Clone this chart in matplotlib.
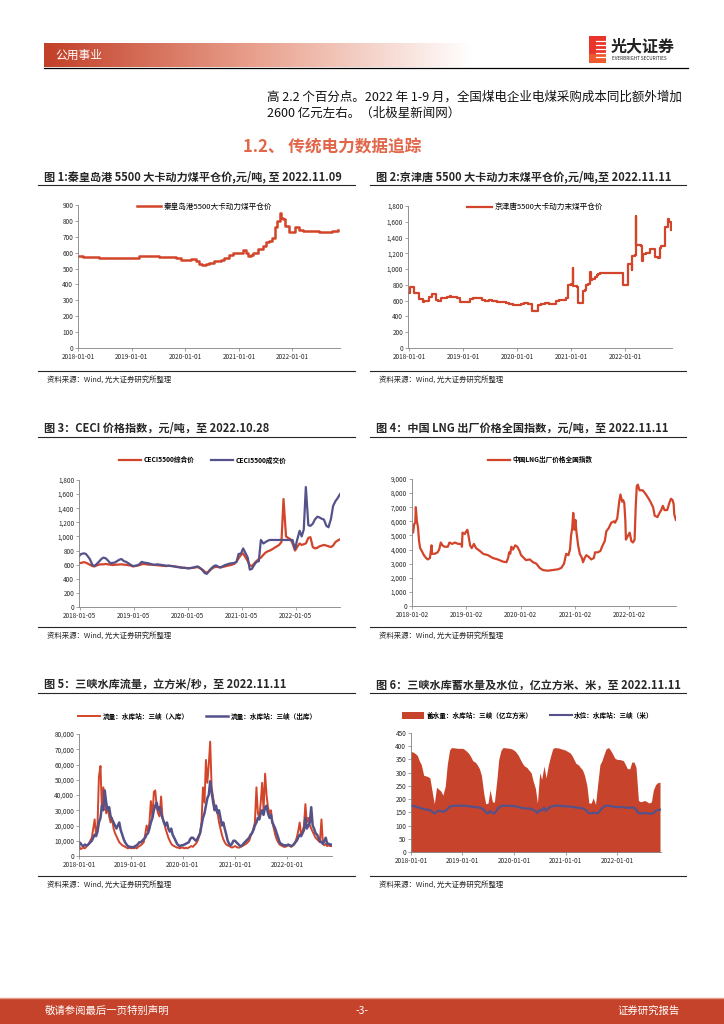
import matplotlib.pyplot as plt
from matplotlib.ticker import FuncFormatter, MultipleLocator
from matplotlib.lines import Line2D
from matplotlib.patches import Rectangle, Patch
from matplotlib.colors import LinearSegmentedColormap
import numpy as np
import pandas as pd

plt.rcParams['font.family'] = ['Noto Sans CJK SC', 'DejaVu Sans']

W, H = 724, 1024
RED = '#D2452A'
BLUE = '#55528A'
AREA = '#C8432B'
GRAY = '#808080'
TXT = '#262626'
SRC = '资料来源：Wind, 光大证券研究所整理'

# ---------------- data ----------------
# 图1 秦皇岛港 5500 平仓价 (step series)
qhd_dates = ['2018-01-01', '2018-02-04', '2018-05-20', '2018-08-09', '2019-02-20', '2019-07-05',
             '2019-10-27', '2019-12-01', '2020-02-09', '2020-03-12', '2020-04-05', '2020-04-27',
             '2020-05-20', '2020-06-12', '2020-07-16', '2020-09-01', '2020-09-24', '2020-10-28',
             '2020-11-20', '2020-12-13', '2021-01-28', '2021-02-15', '2021-03-01', '2021-03-24',
             '2021-04-09', '2021-05-09', '2021-06-12', '2021-07-05', '2021-07-28', '2021-08-15',
             '2021-09-05', '2021-09-15', '2021-10-05', '2021-10-15', '2021-11-01', '2021-11-10',
             '2021-12-12', '2022-01-16', '2022-02-15', '2022-03-12', '2022-07-01', '2022-10-01',
             '2022-11-09']
qhd_vals = [580, 570, 565, 568, 578, 575, 565, 555, 560, 548, 530, 525,
            530, 535, 545, 555, 565, 585, 595, 600, 615, 600, 580, 585,
            595, 620, 645, 670, 675, 690, 760, 800, 850, 820, 810, 770,
            730, 760, 740, 735, 733, 735, 740]

# 图2 京津唐 5500 末煤平仓价 (step series)
jjt_dates = ['2018-01-01', '2018-01-05', '2018-02-04', '2018-03-04', '2018-04-05', '2018-04-10',
             '2018-05-10', '2018-06-04', '2018-06-20', '2018-07-01', '2018-07-15', '2018-08-01',
             '2018-08-28', '2018-09-10', '2018-10-01', '2018-10-10', '2018-11-17', '2018-12-10',
             '2019-02-17', '2019-03-10', '2019-05-06', '2019-05-29', '2019-06-26', '2019-07-14',
             '2019-08-15', '2019-10-15', '2019-11-06', '2019-12-01', '2020-01-27', '2020-02-19',
             '2020-03-12', '2020-04-09', '2020-05-19', '2020-06-12', '2020-07-09', '2020-08-04',
             '2020-08-20', '2020-09-19', '2020-10-10', '2020-11-25', '2020-12-13', '2020-12-28',
             '2021-01-14', '2021-01-17', '2021-02-10', '2021-02-15', '2021-03-20', '2021-04-06',
             '2021-04-10', '2021-04-28', '2021-05-10', '2021-05-13', '2021-05-25', '2021-06-10',
             '2021-06-25', '2021-07-05', '2021-07-18', '2021-12-20', '2022-01-23', '2022-02-15',
             '2022-02-17', '2022-03-10', '2022-03-17', '2022-03-20', '2022-04-19', '2022-04-24',
             '2022-04-30', '2022-05-25', '2022-06-10', '2022-06-22', '2022-07-24', '2022-08-10',
             '2022-08-28', '2022-09-03', '2022-09-27', '2022-10-19', '2022-10-30', '2022-11-07',
             '2022-11-11']
jjt_vals = [700, 770, 700, 620, 580, 590,
            650, 690, 680, 610, 600, 630,
            640, 650, 665, 645, 630, 585,
            620, 630, 610, 600, 610, 590,
            585, 570, 555, 550, 560, 570,
            560, 470, 540, 560, 575, 560,
            555, 600, 610, 635, 800, 810,
            1020, 780, 770, 570, 720, 740,
            800, 810, 960, 860, 880, 900,
            920, 935, 950, 800, 1060, 990,
            1160, 1180, 1670, 1300, 1290, 1100,
            1190, 1200, 1210, 1250, 1150, 1140,
            1270, 1290, 1530, 1630, 1600, 1500,
            1500]

# 图3 CECI, semi-monthly 2018-01 ~ 2022-11
ceci_zh = [620, 625, 635, 630, 615, 600, 580, 575, 590, 600, 605, 605,
           610, 605, 600, 595, 598, 600, 603, 605, 600, 598, 592, 588,
           575, 580, 588, 595, 605, 610, 605, 600, 600, 598, 595, 592,
           588, 585, 582, 580, 585, 583, 578, 575, 568, 565, 558, 555,
           552, 550, 553, 556, 562, 565, 545, 530, 500, 485, 510, 540,
           560, 570, 565, 560, 570, 575, 585, 590, 600, 610, 640, 690,
           740, 760, 700, 650, 590, 580, 620, 650, 680, 700, 740, 770,
           790, 800, 820, 840, 860, 880, 920, 1530, 1000, 980, 960, 900,
           800, 850, 900, 880, 890, 900, 980, 990, 850, 830, 840, 860,
           870, 880, 870, 860, 850, 870, 920, 940, 960]
ceci_cj = [720, 750, 760, 755, 720, 680, 600, 580, 610, 640, 680, 700,
           690, 660, 620, 625, 630, 650, 670, 680, 650, 640, 620, 600,
           580, 585, 590, 610, 640, 630, 625, 620, 610, 600, 600, 605,
           600, 595, 590, 585, 585, 580, 578, 570, 565, 560, 555, 555,
           550, 548, 555, 560, 570, 575, 550, 520, 480, 470, 520, 550,
           580, 590, 570, 560, 580, 595, 605, 615, 620, 625, 640, 750,
           760, 830, 760, 700, 530, 540, 600, 640, 650, 950, 900, 920,
           940, 950, 950, 950, 950, 950, 950, 950, 950, 950, 950, 950,
           820, 950, 1080, 1000, 1100, 1700, 1160, 1150, 1180, 1240, 1280, 1270,
           1250, 1240, 1150, 1130, 1250, 1430, 1500, 1540, 1600]

# 图4 LNG 出厂价格全国指数 (decimal year, value)
lng_yr = [2018.00, 2018.02, 2018.04, 2018.06, 2018.07, 2018.09, 2018.11, 2018.13, 2018.15, 2018.18,
          2018.22, 2018.26, 2018.29, 2018.33, 2018.34, 2018.36, 2018.37, 2018.42, 2018.47, 2018.50,
          2018.53, 2018.56, 2018.60, 2018.66, 2018.69, 2018.74, 2018.79, 2018.85, 2018.91, 2018.92,
          2018.93, 2018.97, 2019.00, 2019.02, 2019.04, 2019.07, 2019.10, 2019.14, 2019.18, 2019.25,
          2019.31, 2019.40, 2019.49, 2019.58, 2019.67, 2019.74, 2019.77, 2019.79, 2019.81, 2019.83,
          2019.86, 2019.90, 2019.94, 2019.98, 2020.01, 2020.06, 2020.10, 2020.17, 2020.23, 2020.29,
          2020.35, 2020.41, 2020.50, 2020.60, 2020.69, 2020.75, 2020.80, 2020.84, 2020.88, 2020.91,
          2020.93, 2020.95, 2020.97, 2020.99, 2021.01, 2021.03, 2021.06, 2021.09, 2021.13, 2021.15,
          2021.18, 2021.21, 2021.25, 2021.30, 2021.35, 2021.37, 2021.42, 2021.47, 2021.50, 2021.55,
          2021.58, 2021.62, 2021.67, 2021.72, 2021.74, 2021.78, 2021.82, 2021.84, 2021.87, 2021.89,
          2021.91, 2021.93, 2021.94, 2021.98, 2022.01, 2022.04, 2022.07, 2022.10, 2022.12, 2022.14,
          2022.16, 2022.19, 2022.25, 2022.31, 2022.36, 2022.39, 2022.44, 2022.47, 2022.52, 2022.56,
          2022.59, 2022.62, 2022.65, 2022.70, 2022.74, 2022.77, 2022.80, 2022.82, 2022.83, 2022.86]
lng_vals = [5400, 5200, 5800, 5900, 7000, 6000, 5600, 4600, 4100, 3900,
            3600, 3400, 3300, 3400, 3700, 4300, 3700, 3700, 3800, 4000,
            4500, 4300, 4200, 4200, 4500, 4400, 4500, 4400, 4400, 4200,
            5200, 5100, 5300, 5400, 5000, 4300, 4100, 4400, 4100, 3900,
            3700, 3600, 3400, 3300, 3150, 3100, 3400, 3800, 3700, 4200,
            4000, 4300, 4200, 3900, 3600, 3400, 3250, 3300, 3100, 3000,
            2700, 2550, 2500, 2550, 2600, 2700, 3000, 3700, 3600, 4000,
            5000, 5500, 6600, 5400, 6100, 5200, 4300, 3700, 3400, 3100,
            3400, 3600, 3500, 3300, 3400, 3800, 3800, 3900, 4200, 4600,
            5300, 5500, 5900, 6000, 5900, 6200, 7500, 7900, 7400, 7500,
            7300, 6000, 4700, 5000, 5200, 4600, 4500, 4700, 7000, 8500,
            8600, 8200, 8200, 7900, 7600, 7400, 7000, 6400, 6300, 6600,
            6800, 7100, 6800, 6800, 7300, 7600, 7500, 7200, 6500, 6100]

# 图5 三峡流量, 每月 1/11/21 日
flow_in = [7000, 4500, 5000, 5500, 5000, 6000, 7000, 8000, 10000, 12000, 18000, 24000,
           14000, 20000, 52000, 59000, 30000, 45000, 38000, 28000, 32000, 26000, 22000, 25000,
           18000, 15000, 13000, 11000, 9000, 8000, 7000, 6500, 6000, 5500, 5000, 5500,
           5000, 5500, 5000, 5500, 5000, 6000, 6500, 7000, 8000, 9000, 14000, 20000,
           16000, 22000, 36000, 25000, 42000, 43000, 32000, 28000, 26000, 39000, 25000, 22000,
           18000, 15000, 12000, 10000, 8000, 7000, 6500, 6000, 5500, 5500, 5000, 5500,
           5500, 5000, 5500, 5000, 5500, 6000, 6500, 6000, 7000, 8000, 9500, 12000,
           15000, 22000, 45000, 35000, 63000, 48000, 60000, 75000, 45000, 38000, 33000, 30000,
           28000, 22000, 18000, 14000, 11000, 9000, 7500, 7000, 6500, 6000, 5500, 6000,
           6500, 6000, 5500, 5500, 6000, 6500, 7000, 7500, 8000, 9000, 10000, 13000,
           15000, 18000, 22000, 45000, 28000, 25000, 35000, 48000, 30000, 54000, 40000, 32000,
           28000, 30000, 22000, 18000, 14000, 11000, 9000, 7500, 7000, 6500, 6000, 6000,
           6500, 7000, 6500, 6000, 7000, 7500, 9000, 12000, 16000, 22000, 14000, 16000,
           20000, 34000, 22000, 25000, 20000, 18000, 16000, 14000, 12000, 11000, 10000, 9000,
           24000, 8000, 7000, 8000, 6500, 7000, 6500, 6500]
flow_out = [9000, 8500, 7000, 6500, 7500, 7000, 7000, 8000, 9000, 10000, 12000, 14000,
            13000, 16000, 22000, 25000, 33000, 30000, 43000, 35000, 30000, 32000, 26000, 24000,
            22000, 20000, 18000, 20000, 22000, 17000, 14000, 11000, 9000, 7500, 6500, 6000,
            6000, 5500, 6000, 6500, 7000, 8000, 9000, 9000, 10000, 11000, 12000, 14000,
            15000, 18000, 22000, 25000, 30000, 33000, 35000, 30000, 32000, 28000, 25000, 22000,
            20000, 22000, 18000, 16000, 18000, 14000, 12000, 10000, 8000, 7000, 6500, 7000,
            7000, 7500, 8000, 8500, 9000, 11000, 12000, 12000, 11000, 10000, 11000, 13000,
            15000, 20000, 25000, 28000, 33000, 38000, 40000, 49000, 42000, 35000, 30000, 33000,
            28000, 30000, 25000, 20000, 22000, 18000, 14000, 10000, 8000, 7000, 8000, 10000,
            10000, 9000, 8000, 7000, 6500, 7000, 8000, 9000, 10000, 11000, 12000, 14000,
            15000, 17000, 20000, 22000, 25000, 24000, 28000, 30000, 27000, 32000, 33000, 28000,
            25000, 27000, 22000, 20000, 18000, 15000, 12000, 9000, 8000, 7500, 7000, 7000,
            7000, 7500, 7000, 6500, 7000, 8000, 9000, 10000, 12000, 14000, 13000, 15000,
            17000, 25000, 18000, 20000, 22000, 32000, 20000, 18000, 15000, 14000, 12000, 10000,
            9000, 8000, 10000, 12000, 8000, 8000, 7500, 7500]

# 图6 三峡蓄水量 (亿立方米) 及水位 (米), semi-monthly
storage = [380, 378, 372, 365, 345, 330, 290, 288, 285, 280, 225, 182,
           245, 238, 230, 215, 250, 330, 385, 395, 394, 393, 392, 392,
           392, 388, 380, 372, 360, 345, 340, 330, 315, 290, 220, 182,
           185, 235, 190, 188, 270, 350, 385, 395, 394, 393, 392, 390,
           385, 378, 365, 350, 335, 325, 320, 310, 300, 270, 240, 185,
           300, 275, 325, 280, 330, 360, 390, 395, 394, 393, 390, 388,
           385, 380, 375, 365, 350, 335, 330, 320, 310, 290, 250, 185,
           185, 205, 180, 250, 330, 345, 370, 390, 395, 385, 370, 355,
           350, 350, 348, 345, 330, 315, 315, 340, 340, 320, 195, 190,
           192, 195, 190, 185, 190, 235, 255, 262, 264]
level = [175, 174, 172, 170, 168, 165, 162, 161, 160, 158, 152, 146,
         150, 157, 155, 152, 155, 162, 170, 174, 175, 175, 175, 175,
         175, 175, 174, 173, 172, 171, 170, 169, 168, 165, 160, 150,
         146, 155, 147, 146, 158, 168, 173, 175, 175, 175, 175, 174,
         174, 172, 170, 168, 166, 165, 165, 164, 163, 160, 155, 147,
         160, 155, 168, 155, 165, 170, 173, 175, 175, 175, 174, 173,
         173, 172, 172, 171, 170, 168, 167, 166, 165, 162, 155, 146,
         147, 148, 148, 145, 155, 165, 172, 175, 175, 174, 172, 170,
         170, 170, 170, 169, 168, 167, 167, 168, 168, 160, 147, 146,
         146, 147, 147, 146, 145, 147, 155, 158, 160]

semi_dates = pd.date_range('2018-01-01', '2022-11-01', freq='SMS')
dek_dates = [d for d in pd.date_range('2018-01-01', '2022-11-11') if d.day in (1, 11, 21)]


def yr2date(a):
    return pd.Timestamp('2018-01-01') + pd.to_timedelta((np.asarray(a) - 2018) * 365.25, unit='D')


# ---------------- figure helpers ----------------
fig = plt.figure(figsize=(7.24, 10.24), dpi=100)


def px_ax(l, t, r, b):
    return fig.add_axes([l / W, 1 - b / H, (r - l) / W, (b - t) / H])


def px_text(x, y, s, **kw):
    fig.text(x / W, 1 - y / H, s, **kw)


def px_hline(x0, x1, y, **kw):
    fig.add_artist(Line2D([x0 / W, x1 / W], [1 - y / H] * 2, transform=fig.transFigure, **kw))


def panel(x0, x1, title, y_title, y_src):
    px_text(x0 + 6, y_title, title, fontsize=8, fontweight='bold', color=TXT, va='center')
    px_hline(x0, x1, y_title + 8, color=TXT, lw=0.8)
    px_hline(x0, x1, y_src, color=TXT, lw=0.8)
    px_text(x0 + 9, y_src + 9, SRC, fontsize=5.3, color=TXT, va='center')


def style_ax(ax, ticks, xmin, xmax, ymax, ystep, comma=False):
    for s in ['top', 'right']:
        ax.spines[s].set_visible(False)
    for s in ['left', 'bottom']:
        ax.spines[s].set_color(GRAY)
        ax.spines[s].set_linewidth(0.6)
    ax.set_ylim(0, ymax)
    ax.set_xlim(pd.Timestamp(xmin), pd.Timestamp(xmax))
    ax.yaxis.set_major_locator(MultipleLocator(ystep))
    if comma:
        ax.yaxis.set_major_formatter(FuncFormatter(lambda v, p: f'{v:,.0f}'))
    ax.set_xticks(pd.to_datetime(ticks))
    ax.set_xticklabels(ticks)
    ax.tick_params(labelsize=4.6, length=2, width=0.5, color=GRAY, pad=1.5, labelcolor=TXT)


# ---------------- page header ----------------
hdr = px_ax(44, 43, 472, 67)
hdr.imshow(np.linspace(0, 1, 256)[None, :], aspect='auto',
           cmap=LinearSegmentedColormap.from_list('hdr', ['#C23F28', '#E9A28F', '#FFFFFF']))
hdr.axis('off')
px_text(55, 55, '公用事业', fontsize=8.5, color='white', va='center')
px_hline(44, 688, 68, color='black', lw=0.9)

# logo: red block with white stripes cut in from the right
fig.add_artist(Rectangle((589 / W, 1 - 63 / H), 17 / W, 27 / H, transform=fig.transFigure,
                         facecolor='#E8342A', edgecolor='none'))
fig.add_artist(Rectangle((589 / W, 1 - 63 / H), 17 / W, 9 / H, transform=fig.transFigure,
                         facecolor='#EE5A2E', edgecolor='none'))
for yy in (41, 45, 49, 53, 57):
    px_hline(596, 606, yy, color='white', lw=0.9)
px_text(611, 46, '光大证券', fontsize=11.5, fontweight='bold', color='#222222', va='center')
px_text(612, 58, 'EVERBRIGHT SECURITIES', fontsize=3.3, color='#222222', va='center')

px_text(267, 97, '高 2.2 个百分点。2022 年 1-9 月，全国煤电企业电煤采购成本同比额外增加',
        fontsize=9.0, color='#111111', va='center')
px_text(267, 113, '2600 亿元左右。（北极星新闻网）', fontsize=9.0, color='#111111', va='center')
px_text(243, 147, '1.2、 传统电力数据追踪', fontsize=12, fontweight='bold', color='#E2664A', va='center')

# ---------------- 图1 ----------------
panel(38, 355, '图 1:秦皇岛港 5500 大卡动力煤平仓价,元/吨, 至 2022.11.09', 177, 371)
ax1 = px_ax(78, 205, 340, 348)
ax1.step(pd.to_datetime(qhd_dates), qhd_vals, where='post', color=RED, lw=1.8,
         label='秦皇岛港5500大卡动力煤平仓价')
style_ax(ax1, ['2018-01-01', '2019-01-01', '2020-01-01', '2021-01-01', '2022-01-01'],
         '2017-12-29', '2022-11-22', 900, 100)
ax1.legend(loc='center left', bbox_to_anchor=(0.225, 0.985), frameon=False, fontsize=5.5,
           handlelength=3.2, handletextpad=0.3, borderaxespad=0, borderpad=0)

# ---------------- 图2 ----------------
panel(370, 686, '图 2:京津唐 5500 大卡动力末煤平仓价,元/吨,至 2022.11.11', 177, 371)
ax2 = px_ax(408, 206, 672, 348)
ax2.step(pd.to_datetime(jjt_dates), jjt_vals, where='post', color=RED, lw=1.6,
         label='京津唐5500大卡动力末煤平仓价')
style_ax(ax2, ['2018-01-01', '2019-01-01', '2020-01-01', '2021-01-01', '2022-01-01'],
         '2017-12-22', '2022-11-16', 1800, 200, comma=True)
ax2.legend(loc='center left', bbox_to_anchor=(0.225, 0.99), frameon=False, fontsize=5.5,
           handlelength=3.2, handletextpad=0.3, borderaxespad=0, borderpad=0)

# ---------------- 图3 ----------------
panel(38, 355, '图 3：CECI 价格指数，元/吨，至 2022.10.28', 429, 627)
ax3 = px_ax(79, 480, 340, 607)
ax3.plot(semi_dates, ceci_zh, color=RED, lw=1.6, label='CECI5500综合价')
ax3.plot(semi_dates, ceci_cj, color=BLUE, lw=1.6, label='CECI5500成交价')
style_ax(ax3, ['2018-01-05', '2019-01-05', '2020-01-05', '2021-01-05', '2022-01-05'],
         '2018-01-01', '2022-11-01', 1800, 200, comma=True)
ax3.legend(loc='center', bbox_to_anchor=(0.475, 1.157), ncol=2, frameon=False,
           prop={'size': 4.8, 'weight': 'bold'}, handlelength=3.3, handletextpad=0.4,
           columnspacing=2.5, borderaxespad=0, borderpad=0)

# ---------------- 图4 ----------------
panel(370, 686, '图 4：中国 LNG 出厂价格全国指数，元/吨，至 2022.11.11', 429, 627)
ax4 = px_ax(412, 479, 676, 606)
ax4.plot(yr2date(lng_yr), lng_vals, color=RED, lw=1.6, label='中国LNG出厂价格全国指数')
style_ax(ax4, ['2018-01-02', '2019-01-02', '2020-01-02', '2021-01-02', '2022-01-02'],
         '2018-01-01', '2022-11-12', 9000, 1000, comma=True)
ax4.legend(loc='center', bbox_to_anchor=(0.485, 1.15), frameon=False,
           prop={'size': 4.8, 'weight': 'bold'}, handlelength=3.3, handletextpad=0.4,
           borderaxespad=0, borderpad=0)

# ---------------- 图5 ----------------
panel(38, 355, '图 5：三峡水库流量，立方米/秒，至 2022.11.11', 685, 876)
ax5 = px_ax(79, 734, 332, 856)
ax5.plot(dek_dates, flow_in, color=RED, lw=1.4, label='流量：水库站：三峡（入库）')
ax5.plot(dek_dates, flow_out, color=BLUE, lw=1.8, label='流量：水库站：三峡（出库）')
style_ax(ax5, ['2018-01-01', '2019-01-01', '2020-01-01', '2021-01-01', '2022-01-01'],
         '2018-01-01', '2022-11-14', 80000, 10000, comma=True)
ax5.legend(loc='center', bbox_to_anchor=(0.467, 1.148), ncol=2, frameon=False,
           prop={'size': 4.8, 'weight': 'bold'}, handlelength=3.3, handletextpad=0.4,
           columnspacing=2.6, borderaxespad=0, borderpad=0)

# ---------------- 图6 ----------------
panel(370, 686, '图 6：三峡水库蓄水量及水位，亿立方米、米，至 2022.11.11', 685, 876)
ax6 = px_ax(411, 733, 661, 852)
ax6.fill_between(semi_dates, storage, 0, color=AREA, lw=0)
ax6.plot(semi_dates, level, color=BLUE, lw=1.6)
style_ax(ax6, ['2018-01-01', '2019-01-01', '2020-01-01', '2021-01-01', '2022-01-01'],
         '2018-01-01', '2022-11-08', 450, 50)
h6 = [Patch(facecolor=AREA, edgecolor='none', label='蓄水量：水库站：三峡（亿立方米）'),
      Line2D([], [], color=BLUE, lw=1.5, label='水位：水库站：三峡（米）')]
ax6.legend(handles=h6, loc='center', bbox_to_anchor=(0.467, 1.15), ncol=2, frameon=False,
           prop={'size': 4.8, 'weight': 'bold'}, handlelength=3.3, handleheight=1.1,
           handletextpad=0.4, columnspacing=2.6, borderaxespad=0, borderpad=0)

# ---------------- footer ----------------
fig.add_artist(Rectangle((0, 0), 1, 26 / H, transform=fig.transFigure,
                         facecolor='#C5432A', edgecolor='none'))
px_hline(0, 724, 998, color='#E59A88', lw=1.0)
px_text(45, 1011, '敬请参阅最后一页特别声明', fontsize=7.5, color='white', va='center')
px_text(362, 1011, '-3-', fontsize=7.5, color='white', va='center', ha='center')
px_text(680, 1011, '证券研究报告', fontsize=7.5, color='white', va='center', ha='right')

fig.savefig('out.png', dpi=100)
